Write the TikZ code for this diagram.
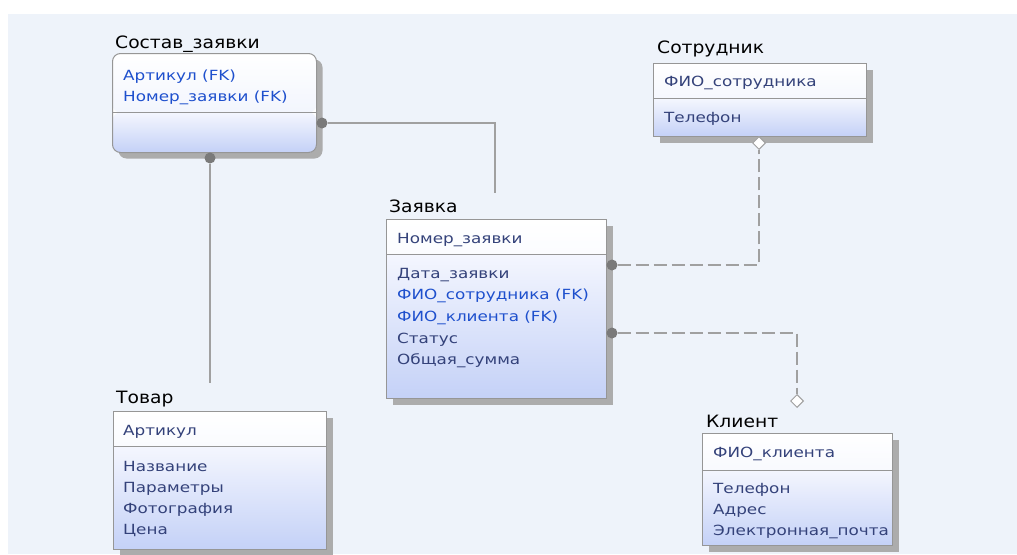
\documentclass[tikz,border=0pt]{standalone}
\usepackage{fontspec}
\setmainfont{DejaVu Sans}
\newfontfamily\attrfont[FakeStretch=1.2]{DejaVu Sans}
\newfontfamily\headfont[FakeStretch=1.1]{DejaVu Sans}
\usetikzlibrary{shadows,shapes.geometric}
\definecolor{bgblue}{RGB}{238,243,250}
\definecolor{entblue}{RGB}{196,209,247}
\definecolor{keyblue}{RGB}{234,239,252}
\definecolor{bodytop}{RGB}{244,246,254}
\definecolor{boxgray}{RGB}{150,150,150}
\definecolor{shadowgray}{RGB}{172,172,172}
\definecolor{attrcol}{RGB}{52,66,122}
\definecolor{fkcol}{RGB}{30,80,205}
\definecolor{linegray}{RGB}{160,160,160}
\definecolor{dotgray}{RGB}{122,122,122}
\newcommand{\fk}[1]{\textcolor{fkcol}{#1}}

\begin{document}
\begin{tikzpicture}[x=1pt, y=-1pt,
  entity/.style={rectangle, draw=boxgray, line width=1pt, inner sep=0pt,
    anchor=north west, fill=white,
    drop shadow={shadow xshift=6pt, shadow yshift=-6pt, fill=shadowgray, opacity=1},
    path picture={
      \fill[top color=white, bottom color=keyblue]
        (path picture bounding box.north west) rectangle
        ([yshift=-#1]path picture bounding box.north east);
      \fill[top color=bodytop, bottom color=entblue]
        ([yshift=-#1]path picture bounding box.north west) rectangle
        (path picture bounding box.south east);
      \draw[boxgray, line width=1pt]
        ([yshift=-#1]path picture bounding box.north west) --
        ([yshift=-#1]path picture bounding box.north east);
    }},
  title/.style={anchor=base west, inner sep=0pt,
    font=\headfont\fontsize{17}{20}\selectfont},
  attr/.style={anchor=base west, inner sep=0pt, text=attrcol,
    font=\attrfont\fontsize{14}{16}\selectfont},
  link/.style={draw=linegray, line width=1.4pt},
  optlink/.style={link, dash pattern=on 13pt off 5pt},
  joint/.style={circle, fill=dotgray, inner sep=0pt, minimum size=11pt},
  nullend/.style={diamond, draw=linegray, fill=white, line width=1pt,
    inner sep=0pt, minimum size=13pt}]
  \useasboundingbox (0,0) rectangle (1017,554);
  \fill[bgblue] (8,14) rectangle (1017,554);

  % entities
  \node[entity=59pt, rounded corners=8pt, minimum width=204pt,
    minimum height=99pt] (sostav) at (112,53) {};
  \node[entity=35pt, minimum width=220pt, minimum height=179pt] (zayavka) at (386,219) {};
  \node[entity=35pt, minimum width=213pt, minimum height=73pt] (sotr) at (653,63) {};
  \node[entity=37pt, minimum width=190pt, minimum height=112pt] (klient) at (702,433) {};
  \node[entity=35pt, minimum width=213pt, minimum height=138pt] (tovar) at (113,411) {};

  \node[title] (sostav-t) at (115,48) {Состав\_заявки};
  \node[title] (zayavka-t) at (389,212) {Заявка};
  \node[title] (sotr-t) at (657,53) {Сотрудник};
  \node[title] (klient-t) at (706,427) {Клиент};
  \node[title] (tovar-t) at (116,403) {Товар};

  % attributes
  \foreach \a [count=\i] in {\fk{Артикул (FK)}, \fk{Номер\_заявки (FK)}}
    \node[attr] (sostav-a\i) at (123,{80+21*(\i-1)}) {\a};

  \node[attr] (zayavka-k) at (397,243) {Номер\_заявки};
  \foreach \a [count=\i] in {Дата\_заявки, \fk{ФИО\_сотрудника (FK)},
      \fk{ФИО\_клиента (FK)}, Статус, Общая\_сумма}
    \node[attr] (zayavka-a\i) at (397,{278+21.7*(\i-1)}) {\a};

  \node[attr] (sotr-k) at (664,86) {ФИО\_сотрудника};
  \node[attr] (sotr-a1) at (664,122) {Телефон};

  \node[attr] (klient-k) at (713,457) {ФИО\_клиента};
  \foreach \a [count=\i] in {Телефон, Адрес, Электронная\_почта}
    \node[attr] (klient-a\i) at (713,{493+21*(\i-1)}) {\a};

  \node[attr] (tovar-k) at (123,435) {Артикул};
  \foreach \a [count=\i] in {Название, Параметры, Фотография, Цена}
    \node[attr] (tovar-a\i) at (123,{471+21.3*(\i-1)}) {\a};

  % relationships
  \node[joint] (j1) at (210,158) {};
  \node[joint] (j2) at (322,123) {};
  \node[joint] (j3) at (612,265) {};
  \node[joint] (j4) at (612,333) {};
  \node[nullend] (n1) at (759,143) {};
  \node[nullend] (n2) at (797,401) {};
  \coordinate (e1) at (210,383);
  \coordinate (e2) at (495,193);
  \draw[link] (j1) -- (e1);
  \draw[link] (j2) -| (e2);
  \draw[optlink] (j3) -| (n1);
  \draw[optlink] (j4) -| (n2);
\end{tikzpicture}
\end{document}
